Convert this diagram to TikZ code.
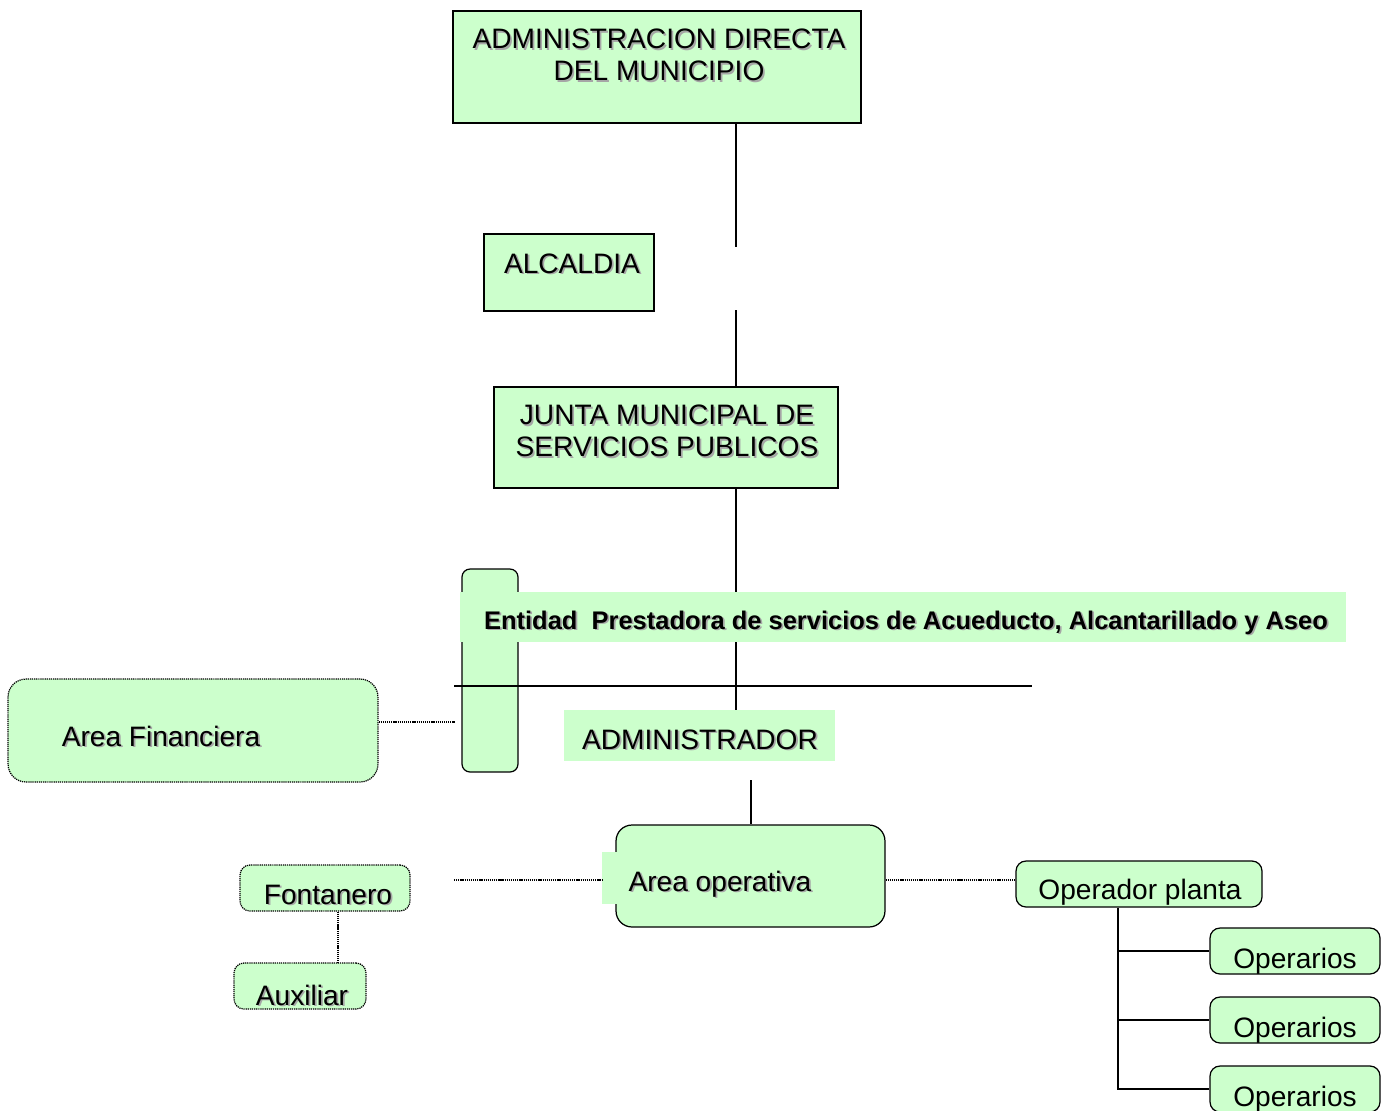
\documentclass[tikz,border=0pt]{standalone}
\usepackage{fontspec}
\setmainfont{Liberation Sans}
\definecolor{lgreen}{HTML}{CCFFCC}
% text with a grey drop shadow
\newcommand{\shd}[1]{\leavevmode\rlap{\hspace{1pt}\raisebox{-1pt}{\color{black!35}#1}}#1}

\begin{document}
\begin{tikzpicture}[x=0.02cm,y=-0.02cm,
    box/.style={draw,fill=lgreen,line width=0.7pt,inner sep=0pt},
    rbox/.style={box,rounded corners=#1},
    dbox/.style={box,dash pattern=on 0.7pt off 0.5pt,rounded corners=#1},
    tag/.style={fill=lgreen,inner sep=0pt},
    txt/.style={font=\fontsize{16}{18}\selectfont,inner sep=0pt},
    con/.style={line width=0.7pt},
    dcon/.style={line width=0.7pt,dash pattern=on 0.7pt off 0.5pt}]
  \useasboundingbox (0,0) rectangle (1393,1110);

  % upper part
  \node[box,minimum width=8.16cm,minimum height=2.24cm] (adm) at (657,67) {};
  \node[txt,align=center] (adm-t) at (659,56) {\shd{ADMINISTRACION DIRECTA}\\\shd{DEL MUNICIPIO}};
  \node[box,minimum width=3.4cm,minimum height=1.54cm] (alc) at (569,272.5) {};
  \node[txt,anchor=base] (alc-t) at (572,273) {\shd{ALCALDIA}};
  \node[box,minimum width=6.88cm,minimum height=2.02cm] (junta) at (666,437.5) {};
  \node[txt,align=center] (junta-t) at (667,432) {\shd{JUNTA MUNICIPAL DE}\\\shd{SERVICIOS PUBLICOS}};

  \coordinate (c1) at (736,247);
  \coordinate (c2) at (736,310);
  \draw[con] (adm.south -| c1) -- (c1);
  \draw[con] (c2) -- (c2 |- junta.north);

  % entidad
  \node[rbox=0.16cm,minimum width=1.12cm,minimum height=4.06cm] (vbar) at (490,670.5) {};
  \node[tag,minimum width=5.42cm,minimum height=1.02cm] (admr) at (699.5,735.5) {};
  \draw[con] (junta.south -| c1) -- (admr.north -| c1);
  \coordinate (hl-w) at (454,686);
  \coordinate (hl-e) at (1032,686);
  \draw[con] (hl-w) -- (hl-e);
  \node[tag,minimum width=17.72cm,minimum height=1cm] (band) at (903,617) {};
  \node[txt,anchor=base,font=\fontsize{14.5}{16}\selectfont\bfseries] (band-t) at (906,629)
    {\shd{Entidad\ \ Prestadora de servicios de Acueducto, Alcantarillado y Aseo}};
  \node[txt,anchor=base] (admr-t) at (700,749) {\shd{ADMINISTRADOR}};

  \node[dbox=0.36cm,minimum width=7.4cm,minimum height=2.06cm] (fin) at (193,730.5) {};
  \node[txt,anchor=base] (fin-t) at (161,746) {\shd{Area Financiera}};
  \coordinate (fin-e) at (455,722);
  \draw[dcon] (fin-e -| fin.east) -- (fin-e);

  % area operativa
  \node[rbox=0.32cm,minimum width=5.38cm,minimum height=2.04cm] (oper) at (750.5,876) {};
  \node[tag,minimum width=1.96cm,minimum height=1.04cm] (oper-tag) at (651,878) {};
  \node[txt,anchor=base] (oper-t) at (720,891) {\shd{Area operativa}};
  \coordinate (c3) at (751,780);
  \draw[con] (c3) -- (c3 |- oper.north);

  \coordinate (ow) at (454,880);
  \draw[dcon] (ow) -- (ow -| oper-tag.west);

  \node[dbox=0.2cm,minimum width=3.4cm,minimum height=0.92cm] (font) at (325,888) {};
  \node[txt,anchor=base] (font-t) at (328,904) {\shd{Fontanero}};
  \node[dbox=0.2cm,minimum width=2.64cm,minimum height=0.92cm] (aux) at (300,986) {};
  \node[txt,anchor=base] (aux-t) at (302,1005) {\shd{Auxiliar}};
  \coordinate (fx) at (338,937);
  \draw[dcon] (font.south -| fx) -- (aux.north -| fx);

  % planta
  \node[rbox=0.2cm,minimum width=4.92cm,minimum height=0.92cm] (opp) at (1139,884) {};
  \node[txt,anchor=base] (opp-t) at (1140,899) {Operador planta};
  \draw[dcon] (oper.east |- ow) -- (opp.west |- ow);

  \node[rbox=0.2cm,minimum width=3.4cm,minimum height=0.92cm] (op1) at (1295,951) {};
  \node[rbox=0.2cm,minimum width=3.4cm,minimum height=0.92cm] (op2) at (1295,1020) {};
  \node[rbox=0.2cm,minimum width=3.4cm,minimum height=0.92cm] (op3) at (1295,1089) {};
  \node[txt,anchor=base] (op1-t) at (1295,968) {Operarios};
  \node[txt,anchor=base] (op2-t) at (1295,1037) {Operarios};
  \node[txt,anchor=base] (op3-t) at (1295,1106) {Operarios};

  \coordinate (tx) at (1118,907);
  \draw[con] (opp.south -| tx) -- (op3.west -| tx) -- (op3.west);
  \draw[con] (op1.west -| tx) -- (op1.west);
  \draw[con] (op2.west -| tx) -- (op2.west);
\end{tikzpicture}
\end{document}
